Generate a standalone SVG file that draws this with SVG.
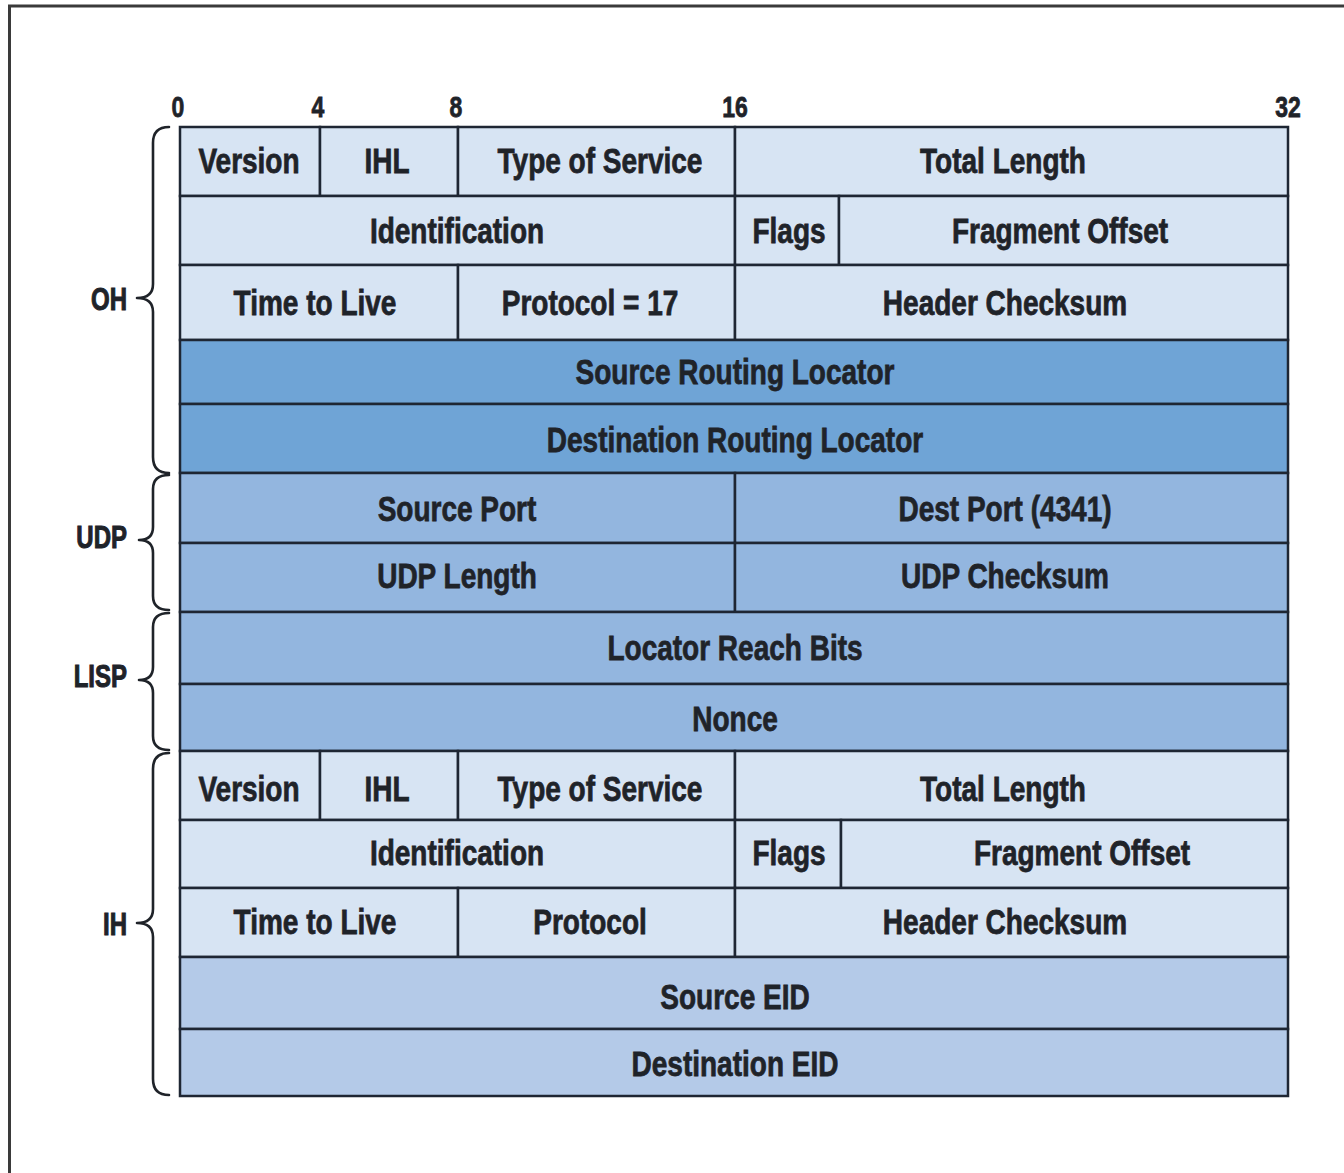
<svg xmlns="http://www.w3.org/2000/svg" width="1344" height="1173" viewBox="0 0 1344 1173">
  <style>
    .frame { fill: none; stroke: #3a3a3a; stroke-width: 3; }
    .cell { stroke: #1e2633; stroke-width: 2.5; }
    .lt { fill: #d7e4f3; }
    .dk { fill: #6fa4d6; }
    .md { fill: #93b6df; }
    .eid { fill: #b4cae8; }
    .t { font-family: "Liberation Sans", Arial, sans-serif; font-weight: bold; font-size: 28px; fill: #1f2329; stroke: #1f2329; stroke-width: 0.6; text-anchor: middle; }
    .n { font-family: "Liberation Sans", Arial, sans-serif; font-weight: bold; font-size: 23px; fill: #1f2329; stroke: #1f2329; stroke-width: 0.6; text-anchor: middle; }
    .g { font-family: "Liberation Sans", Arial, sans-serif; font-weight: bold; font-size: 24px; fill: #1f2329; stroke: #1f2329; stroke-width: 0.8; text-anchor: end; }
    .brace { fill: none; stroke: #1f2329; stroke-width: 2.6; stroke-linecap: round; stroke-linejoin: round; }
  </style>

  <!-- page frame -->
  <rect class="frame" x="9.5" y="6" width="1400" height="1300"/>

  <!-- bit scale -->
  <g id="bit-scale">
    <text class="n" transform="translate(178 117) scale(1 1.25)">0</text>
    <text class="n" transform="translate(318 117) scale(1 1.25)">4</text>
    <text class="n" transform="translate(456 117) scale(1 1.25)">8</text>
    <text class="n" transform="translate(735 117) scale(1 1.25)">16</text>
    <text class="n" transform="translate(1288 117) scale(1 1.25)">32</text>
  </g>

  <!-- outer header (OH) -->
  <g id="oh-version"><rect class="cell lt" x="180" y="127" width="140" height="69"/><text class="t" transform="translate(249 173) scale(1 1.25)">Version</text></g>
  <g id="oh-ihl"><rect class="cell lt" x="320" y="127" width="138" height="69"/><text class="t" transform="translate(387 173) scale(1 1.25)">IHL</text></g>
  <g id="oh-tos"><rect class="cell lt" x="458" y="127" width="277" height="69"/><text class="t" transform="translate(600 173) scale(1 1.25)">Type of Service</text></g>
  <g id="oh-total-length"><rect class="cell lt" x="735" y="127" width="553" height="69"/><text class="t" transform="translate(1003 173) scale(1 1.25)">Total Length</text></g>

  <g id="oh-identification"><rect class="cell lt" x="180" y="196" width="555" height="69"/><text class="t" transform="translate(457 243) scale(1 1.25)">Identification</text></g>
  <g id="oh-flags"><rect class="cell lt" x="735" y="196" width="104" height="69"/><text class="t" transform="translate(789 243) scale(1 1.25)">Flags</text></g>
  <g id="oh-fragment-offset"><rect class="cell lt" x="839" y="196" width="449" height="69"/><text class="t" transform="translate(1060 243) scale(1 1.25)">Fragment Offset</text></g>

  <g id="oh-ttl"><rect class="cell lt" x="180" y="265" width="278" height="75"/><text class="t" transform="translate(315 315) scale(1 1.25)">Time to Live</text></g>
  <g id="oh-protocol"><rect class="cell lt" x="458" y="265" width="277" height="75"/><text class="t" transform="translate(590 315) scale(1 1.25)">Protocol = 17</text></g>
  <g id="oh-header-checksum"><rect class="cell lt" x="735" y="265" width="553" height="75"/><text class="t" transform="translate(1005 315) scale(1 1.25)">Header Checksum</text></g>

  <g id="oh-source-rloc"><rect class="cell dk" x="180" y="340" width="1108" height="64"/><text class="t" transform="translate(735 384) scale(1 1.25)">Source Routing Locator</text></g>
  <g id="oh-dest-rloc"><rect class="cell dk" x="180" y="404" width="1108" height="69"/><text class="t" transform="translate(735 452) scale(1 1.25)">Destination Routing Locator</text></g>

  <!-- UDP header -->
  <g id="udp-source-port"><rect class="cell md" x="180" y="473" width="555" height="70"/><text class="t" transform="translate(457 521) scale(1 1.25)">Source Port</text></g>
  <g id="udp-dest-port"><rect class="cell md" x="735" y="473" width="553" height="70"/><text class="t" transform="translate(1005 521) scale(1 1.25)">Dest Port (4341)</text></g>
  <g id="udp-length"><rect class="cell md" x="180" y="543" width="555" height="69"/><text class="t" transform="translate(457 588) scale(1 1.25)">UDP Length</text></g>
  <g id="udp-checksum"><rect class="cell md" x="735" y="543" width="553" height="69"/><text class="t" transform="translate(1005 588) scale(1 1.25)">UDP Checksum</text></g>

  <!-- LISP header -->
  <g id="lisp-reach-bits"><rect class="cell md" x="180" y="612" width="1108" height="72"/><text class="t" transform="translate(735 660) scale(1 1.25)">Locator Reach Bits</text></g>
  <g id="lisp-nonce"><rect class="cell md" x="180" y="684" width="1108" height="67"/><text class="t" transform="translate(735 731) scale(1 1.25)">Nonce</text></g>

  <!-- inner header (IH) -->
  <g id="ih-version"><rect class="cell lt" x="180" y="751" width="140" height="69"/><text class="t" transform="translate(249 801) scale(1 1.25)">Version</text></g>
  <g id="ih-ihl"><rect class="cell lt" x="320" y="751" width="138" height="69"/><text class="t" transform="translate(387 801) scale(1 1.25)">IHL</text></g>
  <g id="ih-tos"><rect class="cell lt" x="458" y="751" width="277" height="69"/><text class="t" transform="translate(600 801) scale(1 1.25)">Type of Service</text></g>
  <g id="ih-total-length"><rect class="cell lt" x="735" y="751" width="553" height="69"/><text class="t" transform="translate(1003 801) scale(1 1.25)">Total Length</text></g>

  <g id="ih-identification"><rect class="cell lt" x="180" y="820" width="555" height="68"/><text class="t" transform="translate(457 865) scale(1 1.25)">Identification</text></g>
  <g id="ih-flags"><rect class="cell lt" x="735" y="820" width="106" height="68"/><text class="t" transform="translate(789 865) scale(1 1.25)">Flags</text></g>
  <g id="ih-fragment-offset"><rect class="cell lt" x="841" y="820" width="447" height="68"/><text class="t" transform="translate(1082 865) scale(1 1.25)">Fragment Offset</text></g>

  <g id="ih-ttl"><rect class="cell lt" x="180" y="888" width="278" height="69"/><text class="t" transform="translate(315 934) scale(1 1.25)">Time to Live</text></g>
  <g id="ih-protocol"><rect class="cell lt" x="458" y="888" width="277" height="69"/><text class="t" transform="translate(590 934) scale(1 1.25)">Protocol</text></g>
  <g id="ih-header-checksum"><rect class="cell lt" x="735" y="888" width="553" height="69"/><text class="t" transform="translate(1005 934) scale(1 1.25)">Header Checksum</text></g>

  <g id="ih-source-eid"><rect class="cell eid" x="180" y="957" width="1108" height="72"/><text class="t" transform="translate(735 1009) scale(1 1.25)">Source EID</text></g>
  <g id="ih-dest-eid"><rect class="cell eid" x="180" y="1029" width="1108" height="67"/><text class="t" transform="translate(735 1076) scale(1 1.25)">Destination EID</text></g>

  <!-- section braces -->
  <g id="braces">
    <path class="brace" d="M169,127 Q153,127 153,143 L153,284 Q153,298 137,298 Q153,298 153,312 L153,457 Q153,473 169,473"/>
    <path class="brace" d="M169,475 Q153,475 153,489 L153,527 Q153,540 139,540 Q153,540 153,553 L153,596 Q153,610 169,610"/>
    <path class="brace" d="M169,613 Q153,613 153,627 L153,667 Q153,680 139,680 Q153,680 153,693 L153,736 Q153,750 169,750"/>
    <path class="brace" d="M169,753 Q153,753 153,769 L153,909 Q153,923 137,923 Q153,923 153,937 L153,1079 Q153,1095 169,1095"/>
  </g>

  <!-- section labels -->
  <g id="section-labels">
    <text id="label-oh" class="g" transform="translate(127 310) scale(1 1.3)">OH</text>
    <text id="label-udp" class="g" transform="translate(127 548) scale(1 1.3)">UDP</text>
    <text id="label-lisp" class="g" transform="translate(127 687) scale(1 1.3)">LISP</text>
    <text id="label-ih" class="g" transform="translate(127 935) scale(1 1.3)">IH</text>
  </g>
</svg>
